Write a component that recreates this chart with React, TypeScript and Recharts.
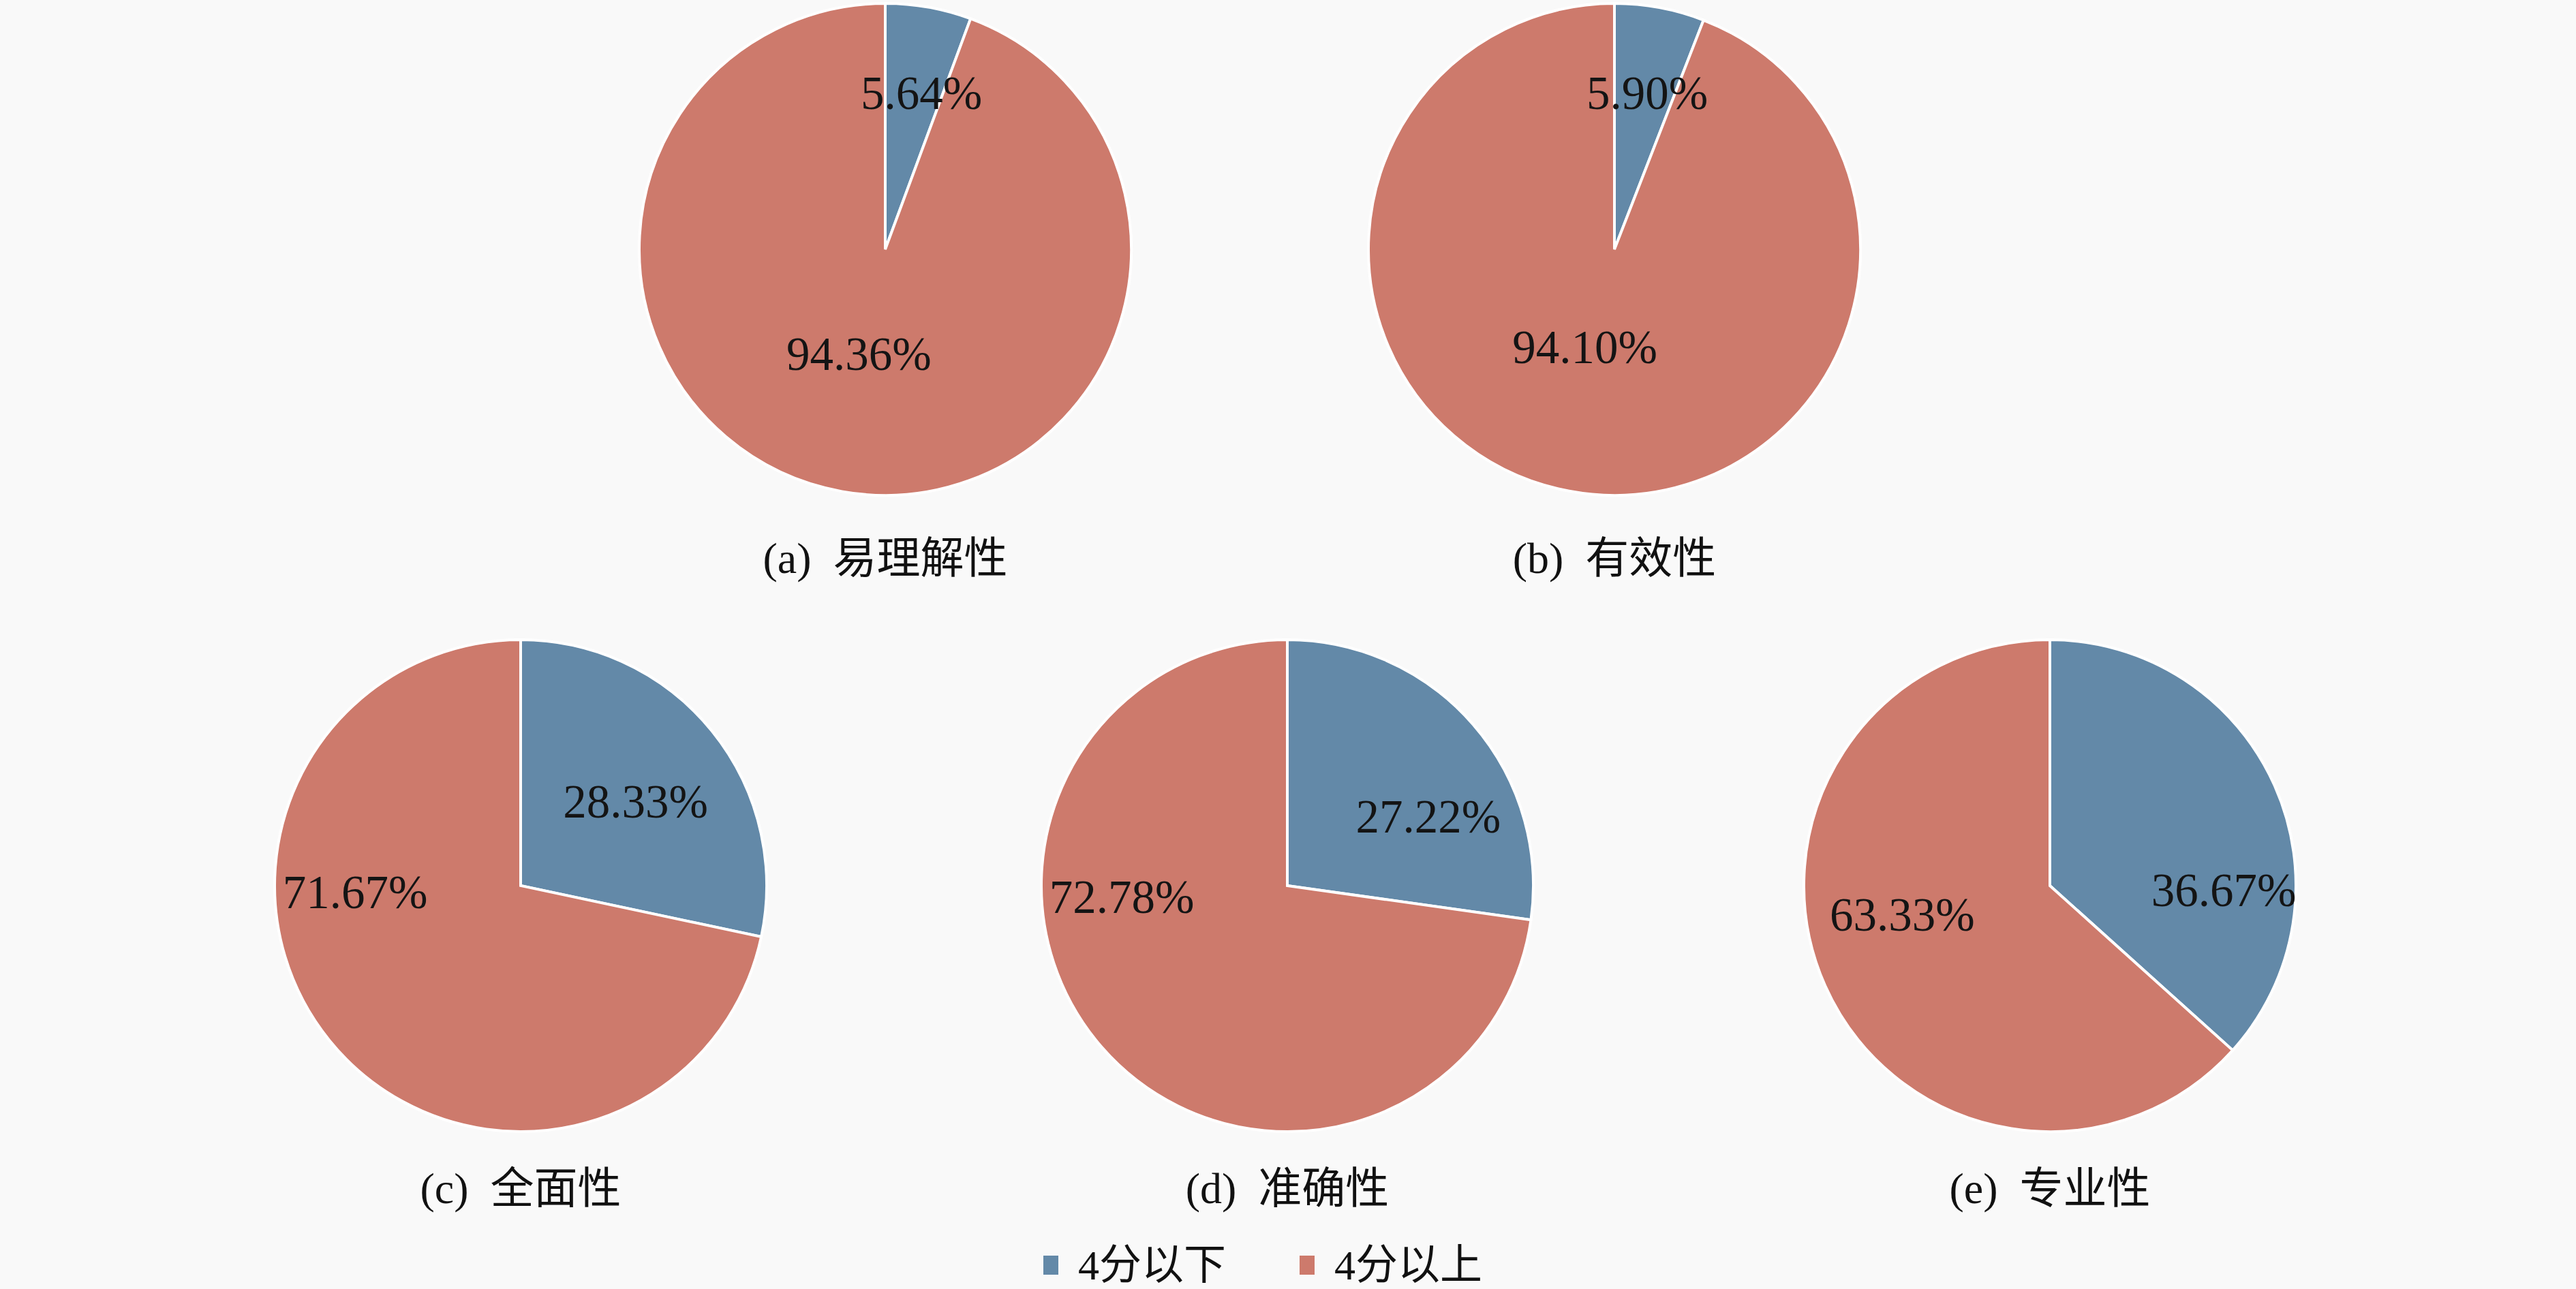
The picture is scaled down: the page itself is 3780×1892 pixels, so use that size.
import React from 'react';
import { PieChart, Pie, Cell } from 'recharts';

const categories = ['4分以下', '4分以上'];
const captions = ['(a) 易理解性', '(b) 有效性', '(c) 全面性', '(d) 准确性', '(e) 专业性'];
const belowFour = [5.64, 5.9, 28.33, 27.22, 36.67];
const aboveFour = [94.36, 94.1, 71.67, 72.78, 63.33];

const COLORS = ['#6389a8', '#cd7a6c'];
const BG = '#f9f9f9';
const SERIF = "'Liberation Serif', 'DejaVu Serif', serif";
const CAPTION_FONT = "'Liberation Serif', 'Noto Sans CJK SC', serif";

// layout (style only)
const R = 361;
const BOX = 760;
const CENTERS = [
  [1299, 366],
  [2369, 366],
  [764, 1300],
  [1889, 1300],
  [3008, 1300],
];
const CAPTION_Y = [820, 820, 1745, 1745, 1745];
// label offsets relative to pie centre, in fractions of radius
const LABEL_POS = [
  [[0.147, -0.633], [-0.107, 0.427]],
  [[0.133, -0.633], [-0.12, 0.4]],
  [[0.467, -0.34], [-0.673, 0.027]],
  [[0.573, -0.28], [-0.673, 0.047]],
  [[0.707, 0.02], [-0.6, 0.12]],
];

const fmt = (v: number) => v.toFixed(2) + '%';

function OnePie({ i }: { i: number }) {
  const data = categories.map((c, k) => ({ name: c, value: k === 0 ? belowFour[i] : aboveFour[i] }));
  const renderLabel = (p: any) => {
    const off = LABEL_POS[i][p.index];
    const x = p.cx + off[0] * p.outerRadius;
    const y = p.cy + off[1] * p.outerRadius;
    return (
      <text x={x} y={y} textAnchor="middle" dominantBaseline="central" fontFamily={SERIF} fontSize={69} fill="#141414">
        {fmt(p.value)}
      </text>
    );
  };
  const [cx, cy] = CENTERS[i];
  return (
    <div style={{ position: 'absolute', left: cx - BOX / 2, top: cy - BOX / 2, width: BOX, height: BOX }}>
      <PieChart width={BOX} height={BOX} margin={{ top: 0, right: 0, bottom: 0, left: 0 }}>
        <Pie
          data={data}
          dataKey="value"
          nameKey="name"
          cx={BOX / 2}
          cy={BOX / 2}
          outerRadius={R}
          startAngle={90}
          endAngle={-270}
          stroke="#ffffff"
          strokeWidth={4}
          label={renderLabel}
          labelLine={false}
          isAnimationActive={false}
        >
          {data.map((d, k) => (
            <Cell key={d.name} fill={COLORS[k]} />
          ))}
        </Pie>
      </PieChart>
    </div>
  );
}

export default function App() {
  return (
    <div style={{ position: 'absolute', left: 0, top: 0, width: 3780, height: 1892, background: BG, overflow: 'hidden' }}>
      {captions.map((_, i) => (
        <OnePie key={i} i={i} />
      ))}
      {captions.map((c, i) => (
        <div
          key={c}
          style={{
            position: 'absolute',
            left: CENTERS[i][0] - 400,
            width: 800,
            top: CAPTION_Y[i] - 40,
            height: 80,
            lineHeight: '80px',
            textAlign: 'center',
            fontFamily: CAPTION_FONT,
            fontSize: 64,
            color: '#111',
            whiteSpace: 'pre',
          }}
        >
          {c.replace(') ', ')  ')}
        </div>
      ))}
      <div
        style={{
          position: 'absolute',
          left: 0,
          width: 3706,
          top: 1822,
          height: 70,
          display: 'flex',
          justifyContent: 'center',
          alignItems: 'center',
          fontFamily: CAPTION_FONT,
          fontSize: 62,
          lineHeight: '70px',
          color: '#111',
        }}
      >
        {categories.map((c, k) => (
          <div key={c} style={{ display: 'flex', alignItems: 'center', marginLeft: k === 0 ? 0 : 108 }}>
            <div style={{ width: 22, height: 28, background: COLORS[k], marginRight: 29 }} />
            <span>{c}</span>
          </div>
        ))}
      </div>
    </div>
  );
}
